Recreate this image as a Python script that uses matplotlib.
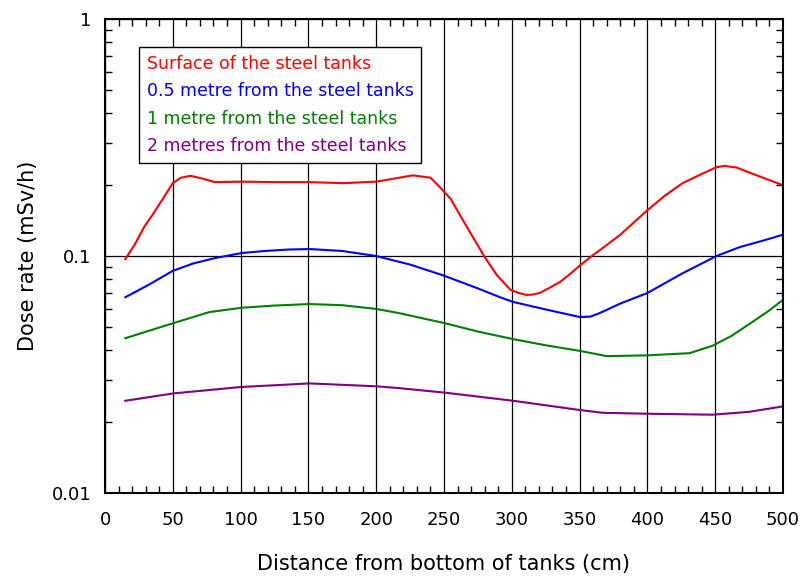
import matplotlib
matplotlib.use('Agg')
import matplotlib.pyplot as plt
from matplotlib.ticker import MultipleLocator, LogLocator, FixedLocator, FuncFormatter, NullFormatter

# data
x_surf = [15, 22, 29, 36, 42, 50, 56, 63, 72, 81, 101, 125, 150, 176, 200, 215, 227, 240, 247,
          255, 262, 271, 280, 289, 299, 305, 311, 316, 321, 328, 336, 343, 350, 359, 367, 380,
          400, 413, 426, 440, 451, 457, 466, 476, 488, 500]
surf = [0.097, 0.112, 0.133, 0.152, 0.172, 0.203, 0.214, 0.218, 0.212, 0.205, 0.206, 0.205,
        0.205, 0.203, 0.206, 0.213, 0.219, 0.214, 0.195, 0.174, 0.148, 0.121, 0.099, 0.083,
        0.072, 0.0698, 0.0685, 0.0688, 0.0700, 0.0735, 0.078, 0.084, 0.091, 0.100, 0.108,
        0.123, 0.156, 0.180, 0.203, 0.222, 0.237, 0.240, 0.236, 0.224, 0.211, 0.199]

x_half = [15, 32, 50, 65, 81, 101, 118, 135, 151, 175, 200, 225, 249, 275, 291, 301, 325, 350,
          358, 365, 380, 400, 426, 451, 468, 485, 500]
half = [0.067, 0.0755, 0.0866, 0.093, 0.098, 0.103, 0.105, 0.1065, 0.107, 0.105, 0.100, 0.092,
        0.083, 0.073, 0.0671, 0.064, 0.0595, 0.0553, 0.0555, 0.0575, 0.063, 0.0698, 0.0846,
        0.100, 0.109, 0.116, 0.123]

x_one = [15, 50, 77, 101, 125, 151, 175, 200, 217, 251, 275, 301, 325, 350, 370, 400, 431,
         448, 462, 476, 490, 500]
one = [0.0450, 0.052, 0.058, 0.0605, 0.0618, 0.0627, 0.0620, 0.0598, 0.0574, 0.052, 0.048,
       0.0446, 0.042, 0.0398, 0.0378, 0.0381, 0.0389, 0.0418, 0.046, 0.052, 0.059, 0.0653]

x_two = [15, 50, 100, 151, 200, 217, 251, 301, 350, 367, 400, 448, 475, 500]
two = [0.0245, 0.0263, 0.0280, 0.0290, 0.0282, 0.0277, 0.0265, 0.0245, 0.0224, 0.0218,
       0.0216, 0.0214, 0.0220, 0.0232]

labels = ['Surface of the steel tanks', '0.5 metre from the steel tanks',
          '1 metre from the steel tanks', '2 metres from the steel tanks']
colors = ['#ff0000', '#0000ff', '#008000', '#800080']

fig = plt.figure(figsize=(8.01, 5.80), dpi=100)
ax = fig.add_axes([0.1311, 0.15, 0.8464, 0.8172])

for xs, ys, lab, c in zip([x_surf, x_half, x_one, x_two], [surf, half, one, two], labels, colors):
    ax.plot(xs, ys, color=c, lw=1.5, label=lab)

ax.set_yscale('log')
ax.set_xlim(0, 500)
ax.set_ylim(0.01, 1)

ax.xaxis.set_major_locator(MultipleLocator(50))
ax.xaxis.set_minor_locator(MultipleLocator(10))
ax.yaxis.set_major_locator(FixedLocator([0.01, 0.1, 1]))
ax.yaxis.set_major_formatter(FuncFormatter(lambda v, p: {0.01: '0.01', 0.1: '0.1', 1: '1'}.get(round(v, 2), '')))
ax.yaxis.set_minor_locator(LogLocator(base=10, subs=range(2, 10)))
ax.yaxis.set_minor_formatter(NullFormatter())

ax.grid(True, which='major', color='black', lw=0.9)
ax.tick_params(which='both', direction='in', top=True, right=True, labelsize=13, colors='black')
ax.tick_params(axis='x', which='major', length=0, pad=13)
ax.tick_params(axis='y', which='major', length=0, pad=10)
ax.tick_params(which='minor', length=5, width=1)
for s in ax.spines.values():
    s.set_linewidth(1.5)

ax.set_xlabel('Distance from bottom of tanks (cm)', fontsize=15, labelpad=18)
ax.set_ylabel('Dose rate (mSv/h)', fontsize=15, labelpad=10)

leg = ax.legend(loc='upper left', bbox_to_anchor=(0.05, 0.941), borderaxespad=0,
                handlelength=0, handletextpad=0,
                labelcolor='linecolor', fontsize=12.5, fancybox=False, edgecolor='black',
                framealpha=1, borderpad=0.45, labelspacing=0.55)
for h in leg.legend_handles:
    h.set_visible(False)
leg.get_frame().set_linewidth(1)

fig.savefig('out.png', dpi=100)
